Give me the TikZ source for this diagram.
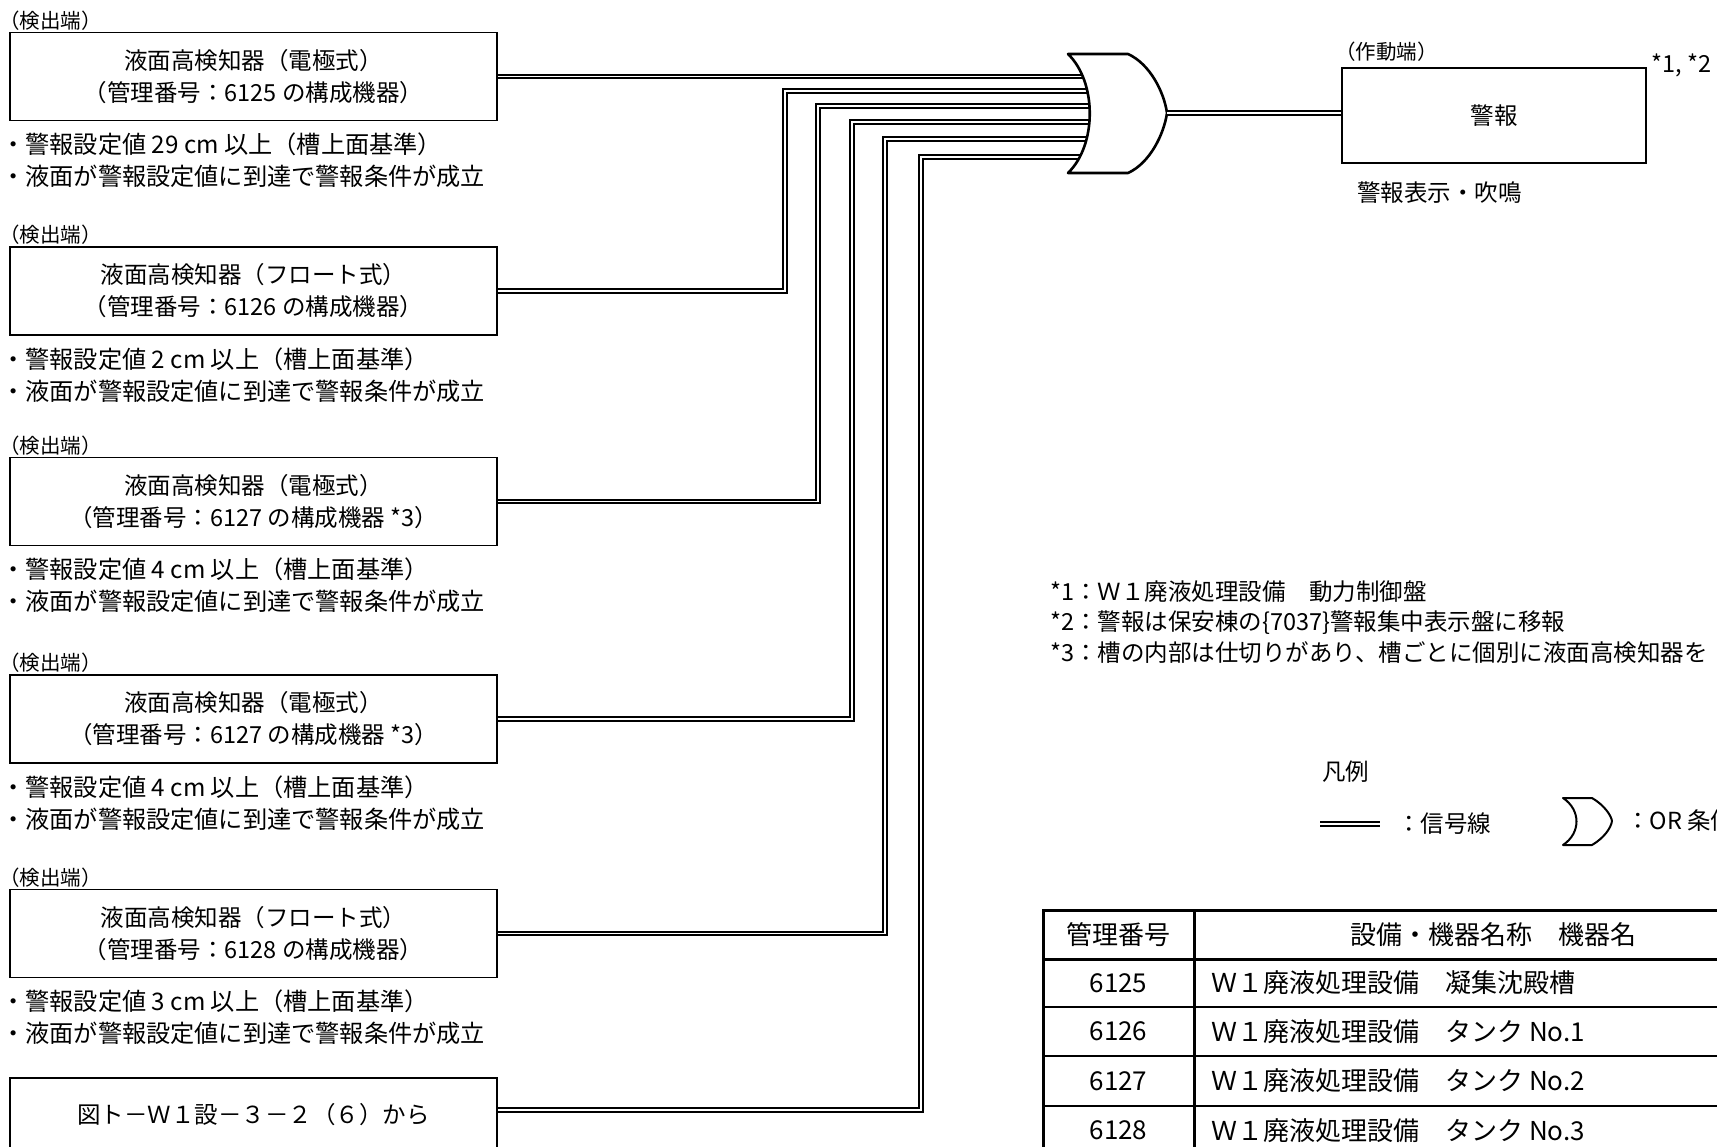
\documentclass[tikz,border=0pt]{standalone}
\usepackage{fontspec}
\setmainfont{Noto Sans CJK JP}

\newcommand{\szmain}{\fontsize{23.5}{32}\selectfont}
\newcommand{\szbullet}{\fontsize{24.2}{32}\selectfont}
\newcommand{\szsmall}{\fontsize{20.5}{24}\selectfont}
\newcommand{\sztable}{\fontsize{26}{30}\selectfont}
\newcommand{\mkthree}{\ *3}

\begin{document}
\begin{tikzpicture}[
    x=1pt, y=-1pt,
    every node/.style = {inner sep=0pt, font=\szmain},
    det/.style    = {draw, line width=1.6pt, minimum width=487pt,
                     minimum height=88pt, align=center},
    wire/.style   = {double, line width=2pt, double distance=1.5pt},
    gate/.style   = {draw, fill=white, line width=2.6pt, line join=round},
    tag/.style    = {anchor=west, font=\szsmall},
    txt/.style    = {anchor=west},
    bul/.style    = {anchor=west, font=\szbullet},
    cell/.style   = {font=\sztable},
    frame/.style  = {line width=3pt},
    rule/.style   = {line width=2pt}
]
\useasboundingbox (0,0) rectangle (1717,1147);

% Detector boxes with their set values
\foreach \i/\y/\kind/\num/\mk/\val in {
    1/76.5/電極式/6125/\relax/29, 2/291/フロート式/6126/\relax/2,
    3/501.5/電極式/6127/\mkthree/4, 4/719/電極式/6127/\mkthree/4,
    5/933.5/フロート式/6128/\relax/3} {
  \node[det] (B\i) at (253.5,\y) {液面高検知器（\kind）\\（管理番号：\num{} の構成機器\mk）};
  \node[tag] (tag\i) at (-1,\y-56) {（検出端）};
  \node[bul] (va\i) at (1,\y+68) {・警報設定値 \val{} cm 以上（槽上面基準）};
  \node[bul] (vb\i) at (1,\y+100) {・液面が警報設定値に到達で警報条件が成立};
}
\node[det] (B6) at (253.5,1122) {};
\node (B6t) at (253.5,1115) {図ト－Ｗ１設－３－２（６）から};

% Gate inputs and turning points of the signal lines
\foreach \i/\ty in {1/76.5, 2/91, 3/106, 4/122, 5/139, 6/157}
    \coordinate (in\i) at (1095,\ty);
\foreach \i/\tx in {2/785, 3/818, 4/852, 5/885, 6/921}
    \coordinate (turn\i) at (\tx,0);

\draw[wire] (B1.east) -- (in1);
\foreach \i in {2,...,5}
    \draw[wire] (B\i.east) -| (turn\i |- in\i) -- (in\i);
\draw[wire] ([yshift=12pt]B6.east) -| (turn6 |- in6) -- (in6);

% OR gate
\draw[gate] (1068,54) -- (1128,54) .. controls (1150,64) and (1164,92) .. (1167,113)
    .. controls (1164,134) and (1150,163) .. (1128,173) -- (1068,173)
    .. controls (1097,145) and (1097,82) .. cycle;
\coordinate (gout) at (1167,113);

% Actuating end
\node[det, minimum width=304pt, minimum height=95pt] (alarm) at (1494,115.5) {警報};
\draw[wire] (gout) -- (gout -| alarm.west);
\node[tag] (actTag) at (1335,52) {（作動端）};
\node[txt] (refs) at (1651,65) {*1, *2};
\node[txt] (alarmTxt) at (1357,193) {警報表示・吹鳴};

% Notes
\node[txt] (n1) at (1050,592) {*1：Ｗ１廃液処理設備　動力制御盤};
\node[txt] (n2) at (1050,623) {*2：警報は保安棟の\{7037\}警報集中表示盤に移報};
\node[txt] (n3) at (1050,653) {*3：槽の内部は仕切りがあり、槽ごとに個別に液面高検知器を};

% Legend
\node[txt] (legT) at (1322,772) {凡例};
\coordinate (legA) at (1320,824);
\coordinate (legB) at (1380,824);
\draw[wire] (legA) -- (legB);
\node[txt] (legW) at (1397,824) {：信号線};
\draw[gate, line width=2pt] (1563,798) -- (1592,798) .. controls (1604,805) and (1611,815) .. (1612,821)
    .. controls (1611,828) and (1604,838) .. (1592,845) -- (1563,845)
    .. controls (1581,833) and (1581,810) .. cycle;
\node[txt] (legG) at (1626,821) {：OR 条件};

% Table of management numbers
\draw[frame] (1043,1180) |- (1800,910);
\draw[frame] (1194,910) -- (1194,1180);
\draw[frame] (1043,959) -- (1800,959);
\foreach \ry in {1007,1056,1106}
    \draw[rule] (1043,\ry) -- (1800,\ry);
\node[cell] (th1) at (1118.5,934.5) {管理番号};
\node[cell] (th2) at (1493,934.5) {設備・機器名称　機器名};
\foreach \i/\num/\name/\ry in {1/6125/凝集沈殿槽/983, 2/6126/タンク No.1/1031.5,
    3/6127/タンク No.2/1081, 4/6128/タンク No.3/1130.5} {
  \node[cell] (c\i) at (1118.5,\ry) {\num};
  \node[cell, anchor=west] (d\i) at (1211,\ry) {Ｗ１廃液処理設備　\name};
}

\end{tikzpicture}
\end{document}
